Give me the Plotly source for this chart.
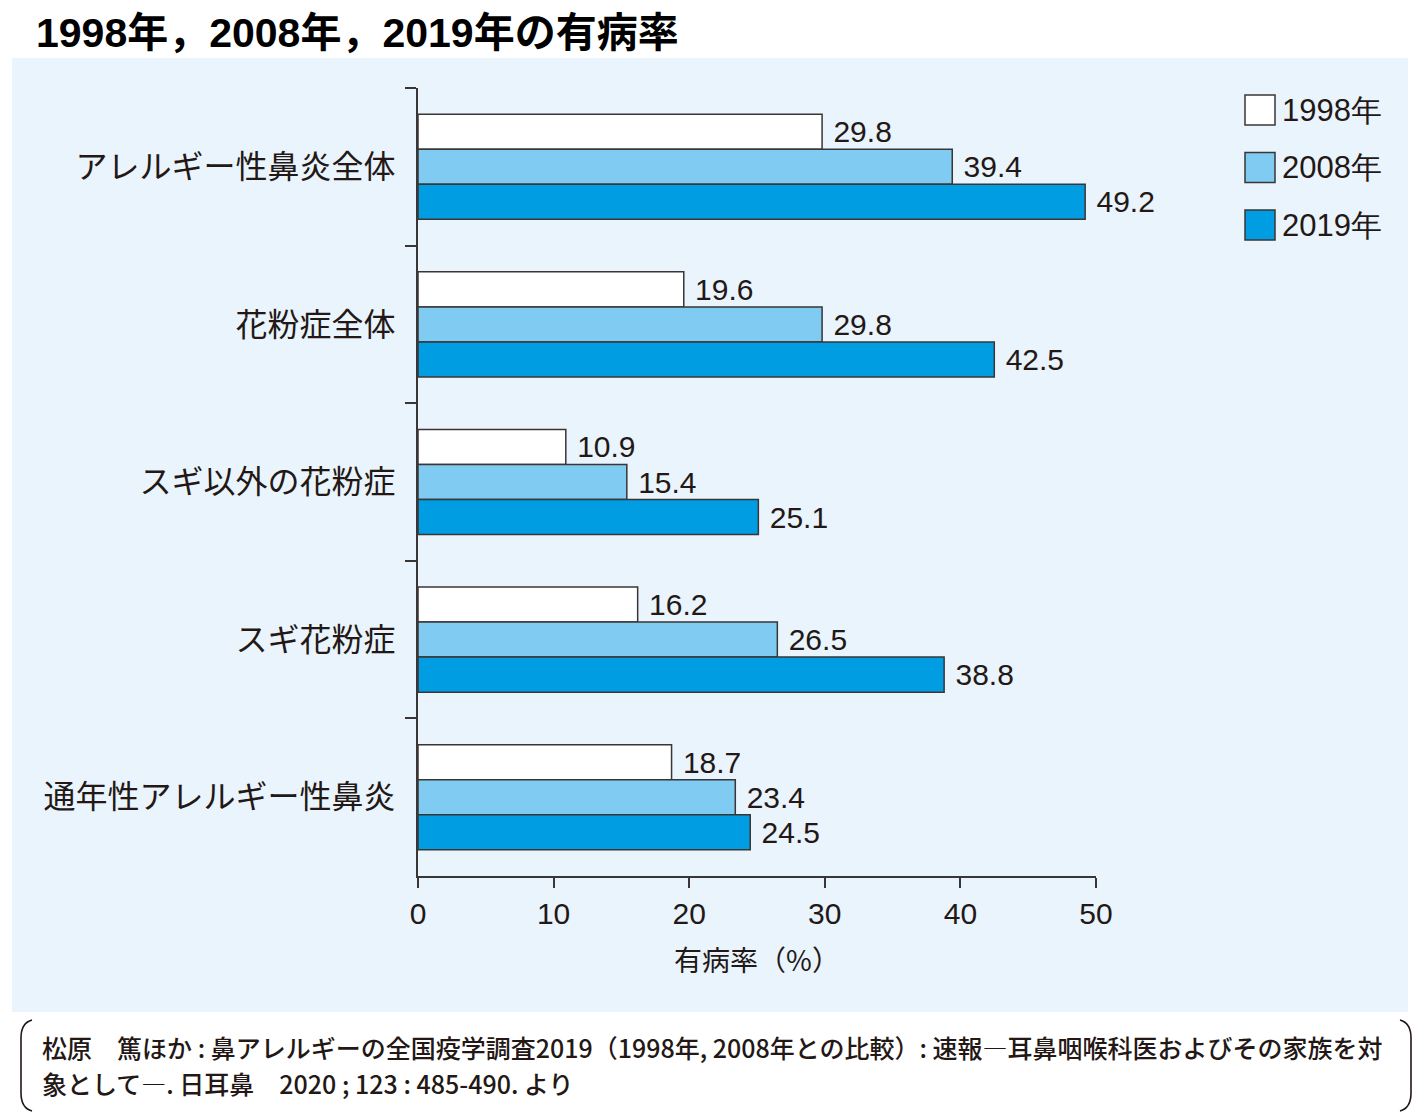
"""
1998年，2008年，2019年の有病率 - グループ横棒グラフ (Plotly)
"""

import plotly.graph_objects as go

# ── データ ──
categories = ["アレルギー性鼻炎全体", "花粉症全体", "スギ以外の花粉症", "スギ花粉症", "通年性アレルギー性鼻炎"]
years = ["1998年", "2008年", "2019年"]
rate_1998 = [29.8, 19.6, 10.9, 16.2, 18.7]
rate_2008 = [39.4, 29.8, 15.4, 26.5, 23.4]
rate_2019 = [49.2, 42.5, 25.1, 38.8, 24.5]
x_ticks = [0, 10, 20, 30, 40, 50]

title_text = "1998年，2008年，2019年の有病率"
x_title = "有病率（%）"
source_lines = [
    "松原　篤ほか : 鼻アレルギーの全国疫学調査2019（1998年, 2008年との比較）: 速報―耳鼻咽喉科医およびその家族を対",
    "象として―. 日耳鼻　2020 ; 123 : 485‑490. より",
]

# ── スタイル ──
PAGE = 8                           # ブラウザの body 余白
W, H = 1424 - PAGE, 1112 - PAGE
L, R, T, B = 418, 1096, 88, 876    # プロット領域 (画面 px)
colors = ["#ffffff", "#7fcbf2", "#009de3"]
edge = "#3a3635"
ink = "#231815"
panel = "#e9f4fd"
num_font = "Liberation Sans, Arial, sans-serif"
jp_font = "Noto Sans CJK JP"


def px(x):
    return (x - L) / (R - L)


def py(y):
    return (B - y) / (B - T)


fig = go.Figure()
for name, vals, c in zip(years, [rate_1998, rate_2008, rate_2019], colors):
    fig.add_trace(go.Bar(
        y=categories, x=vals, name=name, orientation="h",
        marker=dict(color=c, line=dict(color=edge, width=1.5)),
        texttemplate=" %{x:.1f}", textposition="outside",
        textfont=dict(family=num_font, size=30, color=ink),
        constraintext="none", cliponaxis=False,
        showlegend=False,
    ))

shapes = [
    # 背景パネル
    dict(type="rect", xref="paper", yref="paper", layer="below",
         x0=px(12), x1=px(1408), y0=py(58), y1=py(1012),
         fillcolor=panel, line=dict(width=0)),
    # 出典の括弧
    dict(type="path", xref="paper", yref="paper", line=dict(color=ink, width=1.6),
         path=f"M {px(32)},{py(1020)} Q {px(21)},{py(1023)} {px(21)},{py(1038)} "
              f"L {px(21)},{py(1093)} Q {px(21)},{py(1108)} {px(32)},{py(1111)}"),
    dict(type="path", xref="paper", yref="paper", line=dict(color=ink, width=1.6),
         path=f"M {px(1400)},{py(1020)} Q {px(1411)},{py(1023)} {px(1411)},{py(1038)} "
              f"L {px(1411)},{py(1093)} Q {px(1411)},{py(1108)} {px(1400)},{py(1111)}"),
]

annotations = [
    dict(text=title_text, xref="paper", yref="paper", x=px(34), y=py(PAGE),
         xanchor="left", yanchor="top", showarrow=False,
         font=dict(family="Liberation Sans, " + jp_font, size=41, weight=700, color="#000000")),
]
for i, line in enumerate(source_lines):
    annotations.append(dict(
        text=line, xref="paper", yref="paper", x=px(40), y=py(1047 + i * 36),
        xanchor="left", yanchor="middle", showarrow=False,
        font=dict(family=jp_font, size=25, weight=500, color=ink)))

# ── 凡例 (手描き) ──
for i, (name, c) in enumerate(zip(years, colors)):
    yc = 110 + i * 57.5
    shapes.append(dict(type="rect", xref="paper", yref="paper",
                       x0=px(1245), x1=px(1275), y0=py(yc - 15), y1=py(yc + 15),
                       fillcolor=c, line=dict(color=edge, width=1.5)))
    annotations.append(dict(text=name, xref="paper", yref="paper", x=px(1280), y=py(yc),
                            xanchor="left", yanchor="middle", showarrow=False,
                            font=dict(family=num_font, size=31, color=ink)))

fig.update_layout(
    width=W, height=H,
    margin=dict(l=L - PAGE, r=W - (R - PAGE), t=T - PAGE, b=H - (B - PAGE), pad=0),
    paper_bgcolor="#ffffff", plot_bgcolor="rgba(0,0,0,0)",
    barmode="group", bargap=0.333, bargroupgap=0,
    shapes=shapes, annotations=annotations,
    xaxis=dict(
        range=[0, 50], tickvals=x_ticks, showgrid=False, zeroline=False,
        showline=True, linecolor=edge, linewidth=2,
        ticks="outside", ticklen=10, tickwidth=1.5, tickcolor=edge,
        tickfont=dict(family=num_font, size=30, color=ink),
        title=dict(text=x_title, standoff=22,
                   font=dict(family=jp_font, size=28, color=ink)),
    ),
    yaxis=dict(
        autorange="reversed", showgrid=False, zeroline=False,
        showline=True, linecolor=edge, linewidth=2,
        ticks="outside", ticklen=11, tickwidth=1.5, tickcolor=edge,
        tickson="boundaries", ticklabelstandoff=14,
        tickfont=dict(family=jp_font, size=32, color=ink),
    ),
)

fig.write_html("out.html")
